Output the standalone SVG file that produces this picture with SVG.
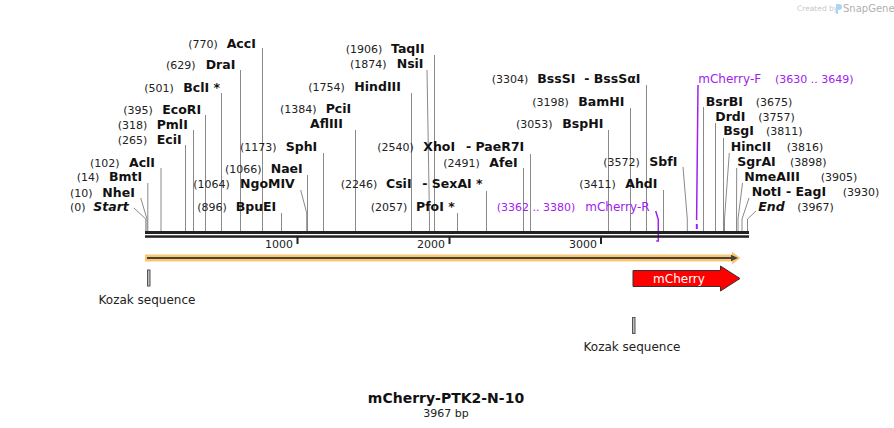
<svg xmlns="http://www.w3.org/2000/svg" width="894" height="428" viewBox="0 0 894 428">
<style>
text{font-family:"DejaVu Sans","Liberation Sans",sans-serif}
.n{font-size:11px;fill:#222}
.b{font-size:12.5px;font-weight:bold;fill:#111}
.i{font-style:italic}
.p{font-size:12px;fill:#a020f0}
.pn{font-size:11px;fill:#a020f0}
.cut{stroke:#8a8a8a;stroke-width:1;fill:none}
.pl{stroke:#a020f0;stroke-width:1.5;fill:none}
.tk{font-size:11px;fill:#222}
.lbl{font-size:12px;fill:#222}
</style>
<rect width="894" height="428" fill="#fff"/>
<g id="watermark">
<text x="797" y="11" style="font-size:7.5px;fill:#c8c8c8">Created by</text>
<path d="M836,4 h3 a3,3 0 0 1 0,6 h-1 v4 h-2 z" fill="#a9d6f2"/>
<text x="843" y="12" style="font-size:10px;fill:#b0b0b0">SnapGene</text>
</g>
<g id="connectors">
<path class="cut" d="M134,208 L145.8,219 V231"/>
<path class="cut" d="M140.7,198 L147,219 V231"/>
<path class="cut" d="M147.8,183 V231"/>
<path class="cut" d="M161,168 V231"/>
<path class="cut" d="M185.5,145 V231"/>
<path class="cut" d="M193.5,130 V231"/>
<path class="cut" d="M205.5,115 V231"/>
<path class="cut" d="M221.5,93 V231"/>
<path class="cut" d="M240.5,70 V231"/>
<path class="cut" d="M262.5,48 V231"/>
<path class="cut" d="M281.5,213 V231"/>
<path class="cut" d="M300.7,190 L306.7,213 V231"/>
<path class="cut" d="M307.5,175 V231"/>
<path class="cut" d="M323.5,153 V231"/>
<path class="cut" d="M355.5,130 V231"/>
<path class="cut" d="M411.5,93 V231"/>
<path class="cut" d="M427,70 L429.5,219 V231"/>
<path class="cut" d="M434.5,55 V231"/>
<path class="cut" d="M457.5,213 V231"/>
<path class="cut" d="M486.5,191 V231"/>
<path class="cut" d="M523.5,168 V231"/>
<path class="cut" d="M530.5,154 V231"/>
<path class="cut" d="M608.5,130 V231"/>
<path class="cut" d="M630.5,108 V231"/>
<path class="cut" d="M646.5,85 V231"/>
<path class="cut" d="M663.5,190 V231"/>
<path class="cut" d="M683,167 L687.3,219 V231"/>
<path class="cut" d="M703.5,107 V231"/>
<path class="cut" d="M715.5,123 V231"/>
<path class="cut" d="M723.5,138 V231"/>
<path class="cut" d="M729.3,153 L724.5,219 V231"/>
<path class="cut" d="M736.7,168 L736.5,219 V231"/>
<path class="cut" d="M742.5,183 L738,219 V231"/>
<path class="cut" d="M749,198 L742,219 V231"/>
<path class="cut" d="M756,211 L747.5,219 V231"/>
<path class="pl" d="M655.7,211 L658.3,219.5 V241.5 M656.2,241 H658.9"/>
<path class="pl" d="M698,85 L696.6,220"/>
<rect x="695.8" y="224" width="2" height="5" fill="#a020f0"/>
</g>
<g id="backbone">
<rect x="145" y="231" width="604" height="3" fill="#222"/>
<rect x="145" y="235.3" width="604" height="2.5" fill="#222"/>
<rect x="296.5" y="237" width="2" height="7" fill="#222"/>
<rect x="448.5" y="237" width="2" height="7" fill="#222"/>
<rect x="600" y="237" width="2" height="7" fill="#222"/>
<text class="tk" x="293" y="248" text-anchor="end">1000</text>
<text class="tk" x="445" y="248" text-anchor="end">2000</text>
<text class="tk" x="597" y="248" text-anchor="end">3000</text>
</g>
<g id="feature-full">
<path d="M145,254.5 H732 V251.5 L740.5,258 L732,264.5 V261.5 H145 Z" fill="#f9c774"/>
<path d="M147,258 H733" stroke="#4a4038" stroke-width="1.8"/>
<path d="M731,254.8 L738,258 L731,261.2 Z" fill="#4a4038"/>
</g>
<g id="mCherry">
<path d="M633,270.5 H720.5 V266 L740,278.5 L720.5,291 V286.5 H633 Z" fill="#ff0000" stroke="#333" stroke-width="1"/>
<text x="679" y="283" text-anchor="middle" style="font-size:12px;fill:#fff">mCherry</text>
</g>
<g id="kozak1">
<rect x="147.5" y="270" width="2.5" height="16" fill="#bbb" stroke="#555" stroke-width="1"/>
<text class="lbl" x="147" y="303.5" text-anchor="middle">Kozak sequence</text>
</g>
<g id="kozak2">
<rect x="632.5" y="317.5" width="2.5" height="16" fill="#bbb" stroke="#555" stroke-width="1"/>
<text class="lbl" x="632" y="351" text-anchor="middle">Kozak sequence</text>
</g>
<g id="site-Start"><text class="n" x="70" y="211">(0)</text><text class="b i" x="93.3" y="211">Start</text></g>
<g id="site-NheI"><text class="n" x="70" y="196.5">(10)</text><text class="b" x="102.3" y="196.5">NheI</text></g>
<g id="site-BmtI"><text class="n" x="76.7" y="181">(14)</text><text class="b" x="109" y="181">BmtI</text></g>
<g id="site-AclI"><text class="n" x="90" y="167">(102)</text><text class="b" x="129" y="167">AclI</text></g>
<g id="site-EciI"><text class="n" x="117.7" y="143.5">(265)</text><text class="b" x="156.7" y="143.5">EciI</text></g>
<g id="site-PmlI"><text class="n" x="117.7" y="128.5">(318)</text><text class="b" x="156.7" y="128.5">PmlI</text></g>
<g id="site-EcoRI"><text class="n" x="123.3" y="113.5">(395)</text><text class="b" x="162.3" y="113.5">EcoRI</text></g>
<g id="site-BclI"><text class="n" x="144.3" y="91.5">(501)</text><text class="b" x="183.3" y="91.5">BclI *</text></g>
<g id="site-DraI"><text class="n" x="166" y="68.5">(629)</text><text class="b" x="205.7" y="68.5">DraI</text></g>
<g id="site-AccI"><text class="n" x="188.3" y="47.5">(770)</text><text class="b" x="226.7" y="47.5">AccI</text></g>
<g id="site-BpuEI"><text class="n" x="197.3" y="211">(896)</text><text class="b" x="235.7" y="211">BpuEI</text></g>
<g id="site-NgoMIV"><text class="n" x="193.3" y="187.5">(1064)</text><text class="b" x="240" y="187.5">NgoMIV</text></g>
<g id="site-NaeI"><text class="n" x="225" y="172.5">(1066)</text><text class="b" x="270.7" y="172.5">NaeI</text></g>
<g id="site-SphI"><text class="n" x="240" y="151">(1173)</text><text class="b" x="285.7" y="151">SphI</text></g>
<g id="site-PciI"><text class="n" x="280" y="113">(1384)</text><text class="b" x="325.7" y="113">PciI</text><text class="b" x="310" y="128">AflIII</text></g>
<g id="site-HindIII"><text class="n" x="308.3" y="91">(1754)</text><text class="b" x="354.3" y="91">HindIII</text></g>
<g id="site-NsiI"><text class="n" x="350" y="68">(1874)</text><text class="b" x="396.7" y="68">NsiI</text></g>
<g id="site-TaqII"><text class="n" x="345.7" y="52.5">(1906)</text><text class="b" x="391" y="52.5">TaqII</text></g>
<g id="site-PfoI"><text class="n" x="370.7" y="211">(2057)</text><text class="b" x="416" y="211">PfoI *</text></g>
<g id="site-CsiI"><text class="n" x="340.7" y="188">(2246)</text><text class="b" x="386" y="188">CsiI</text><text class="b" x="422.3" y="188">- SexAI *</text></g>
<g id="site-AfeI"><text class="n" x="443.3" y="166.5">(2491)</text><text class="b" x="489.3" y="166.5">AfeI</text></g>
<g id="site-XhoI"><text class="n" x="377.3" y="151">(2540)</text><text class="b" x="423.3" y="151">XhoI</text><text class="b" x="466" y="151">- PaeR7I</text></g>
<g id="primer-mCherry-R"><text class="pn" x="496.7" y="211">(3362 .. 3380)</text><text class="p" x="585.3" y="211">mCherry-R</text></g>
<g id="site-BspHI"><text class="n" x="516" y="127.5">(3053)</text><text class="b" x="562.3" y="127.5">BspHI</text></g>
<g id="site-BamHI"><text class="n" x="532.3" y="106">(3198)</text><text class="b" x="578.3" y="106">BamHI</text></g>
<g id="site-BssSI"><text class="n" x="491.7" y="83">(3304)</text><text class="b" x="537.3" y="83">BssSI</text><text class="b" x="584.3" y="83">- BssSαI</text></g>
<g id="site-AhdI"><text class="n" x="579.3" y="188">(3411)</text><text class="b" x="625.3" y="188">AhdI</text></g>
<g id="site-SbfI"><text class="n" x="603.3" y="166">(3572)</text><text class="b" x="649.3" y="166">SbfI</text></g>
<g id="primer-mCherry-F"><text class="p" x="698.3" y="83">mCherry-F</text><text class="pn" x="775" y="83">(3630 .. 3649)</text></g>
<g id="site-BsrBI"><text class="b" x="705.7" y="106">BsrBI</text><text class="n" x="755.7" y="106">(3675)</text></g>
<g id="site-DrdI"><text class="b" x="715.3" y="121">DrdI</text><text class="n" x="758.3" y="121">(3757)</text></g>
<g id="site-BsgI"><text class="b" x="723.3" y="135">BsgI</text><text class="n" x="766" y="135">(3811)</text></g>
<g id="site-HincII"><text class="b" x="730.7" y="151">HincII</text><text class="n" x="786.7" y="151">(3816)</text></g>
<g id="site-SgrAI"><text class="b" x="737.3" y="166">SgrAI</text><text class="n" x="790" y="166">(3898)</text></g>
<g id="site-NmeAIII"><text class="b" x="744.3" y="181">NmeAIII</text><text class="n" x="820.7" y="181">(3905)</text></g>
<g id="site-NotI"><text class="b" x="751.7" y="196">NotI</text><text class="b" x="786" y="196">- EagI</text><text class="n" x="842.7" y="196">(3930)</text></g>
<g id="site-End"><text class="b i" x="758.3" y="211">End</text><text class="n" x="797.3" y="211">(3967)</text></g>
<g id="title">
<text x="446" y="402.5" text-anchor="middle" style="font-size:14px;font-weight:bold;fill:#111">mCherry-PTK2-N-10</text>
<text x="446" y="417" text-anchor="middle" style="font-size:11px;fill:#222">3967 bp</text>
</g>
</svg>
